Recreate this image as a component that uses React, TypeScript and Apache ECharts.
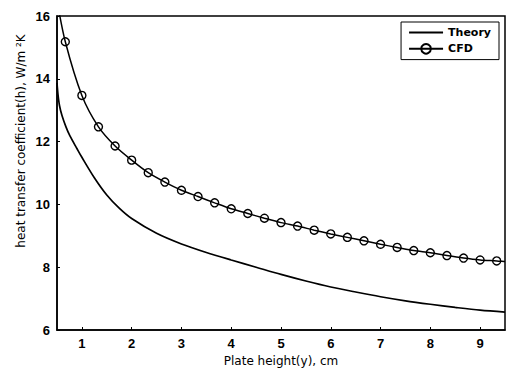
import React, { useEffect, useRef } from "react";
import * as echarts from "echarts";

const theoryX = [0.5, 0.52, 0.55, 0.6, 0.68, 0.76, 0.9, 1.0, 1.25, 1.5, 1.75, 2.0, 2.5, 3.0, 3.5, 4.0, 4.5, 5.0, 5.5, 6.0, 6.5, 7.0, 7.5, 8.0, 8.5, 9.0, 9.5];
const theoryY = [13.87, 13.5, 13.15, 12.83, 12.47, 12.18, 11.78, 11.5, 10.85, 10.3, 9.88, 9.55, 9.08, 8.74, 8.47, 8.23, 8.0, 7.77, 7.56, 7.37, 7.21, 7.06, 6.93, 6.82, 6.72, 6.63, 6.57];

const cfdX = [0.667, 1.0, 1.333, 1.667, 2.0, 2.333, 2.667, 3.0, 3.333, 3.667, 4.0, 4.333, 4.667, 5.0, 5.333, 5.667, 6.0, 6.333, 6.667, 7.0, 7.333, 7.667, 8.0, 8.333, 8.667, 9.0, 9.333];
const cfdY = [15.18, 13.47, 12.47, 11.86, 11.41, 11.01, 10.71, 10.45, 10.25, 10.05, 9.86, 9.71, 9.56, 9.42, 9.31, 9.18, 9.06, 8.95, 8.84, 8.73, 8.63, 8.53, 8.46, 8.37, 8.29, 8.23, 8.2];
const cfdStart = [0.5, 16.5];
const cfdEnd = [9.5, 8.18];

const xTicks = [1, 2, 3, 4, 5, 6, 7, 8, 9];
const yTicks = [6, 8, 10, 12, 14, 16];

const FONT = "'Liberation Sans', Arial, sans-serif";
const WIDE = "'DejaVu Sans', sans-serif";

export default function App() {
  const ref = useRef<HTMLDivElement>(null);
  useEffect(() => {
    if (!ref.current) return;
    const chart = echarts.init(ref.current, null, { renderer: "svg" });
    const cfdData: any[] = [{ value: cfdStart, symbol: "none" }];
    cfdX.forEach((x, i) => cfdData.push([x, cfdY[i]]));
    cfdData.push({ value: cfdEnd, symbol: "none" });
    chart.setOption({
      animation: false,
      backgroundColor: "#fff",
      textStyle: { fontFamily: FONT, color: "#000" },
      grid: {
        left: 57,
        right: 2,
        top: 16,
        bottom: 45,
        show: true,
        borderColor: "#000",
        borderWidth: 1.5,
        backgroundColor: "transparent",
      },
      legend: {
        orient: "vertical",
        right: 8,
        top: 22,
        data: [
          { name: "Theory", itemStyle: { opacity: 0 } },
          { name: "CFD" },
        ],
        borderColor: "#000",
        borderWidth: 1,
        padding: [5, 8, 5, 7],
        itemGap: 5,
        itemWidth: 34,
        itemHeight: 12,
        textStyle: { fontFamily: WIDE, fontSize: 11, color: "#000", fontWeight: "bold" },
      },
      xAxis: {
        type: "value",
        min: 0.5,
        max: 9.5,
        name: "Plate height(y), cm",
        nameLocation: "middle",
        nameGap: 25,
        nameTextStyle: { fontFamily: WIDE, fontSize: 12, color: "#000" },
        axisLine: { show: true, lineStyle: { color: "#000", width: 1.5 } },
        axisTick: { show: true, inside: true, length: 3, customValues: xTicks, lineStyle: { color: "#000" } },
        axisLabel: { customValues: xTicks, fontFamily: FONT, fontSize: 13, color: "#000", margin: 7, fontWeight: "bold" },
        splitLine: { show: false },
      },
      yAxis: {
        type: "value",
        min: 6,
        max: 16,
        interval: 2,
        axisLine: { show: true, lineStyle: { color: "#000", width: 1.5 } },
        axisTick: { show: true, inside: true, length: 3, lineStyle: { color: "#000" } },
        axisLabel: { fontFamily: FONT, fontSize: 13, color: "#000", margin: 7, fontWeight: "bold",
          customValues: yTicks },
        splitLine: { show: false },
      },
      graphic: [
        {
          type: "text",
          x: 21,
          y: 141,
          rotation: Math.PI / 2,
          style: {
            text: "heat transfer coefficient(h), W/m ²K",
            fontFamily: WIDE,
            fontSize: 12,
            fill: "#000",
            align: "center",
            verticalAlign: "middle",
          },
        },
      ],
      series: [
        {
          name: "Theory",
          type: "line",
          data: theoryX.map((x, i) => [x, theoryY[i]]),
          symbol: "none",
          smooth: 0.3,
          lineStyle: { color: "#000", width: 1.7 },
          itemStyle: { color: "#000" },
        },
        {
          name: "CFD",
          type: "line",
          data: cfdData,
          symbol: "circle",
          symbolSize: 8,
          smooth: 0.3,
          lineStyle: { color: "#000", width: 1.5 },
          itemStyle: { color: "rgba(255,255,255,0)", borderColor: "#000", borderWidth: 1.4 },
        },
      ],
    });
    return () => chart.dispose();
  }, []);
  return <div ref={ref} style={{ position: "fixed", left: 0, top: 0, width: 507, height: 375 }} />;
}
